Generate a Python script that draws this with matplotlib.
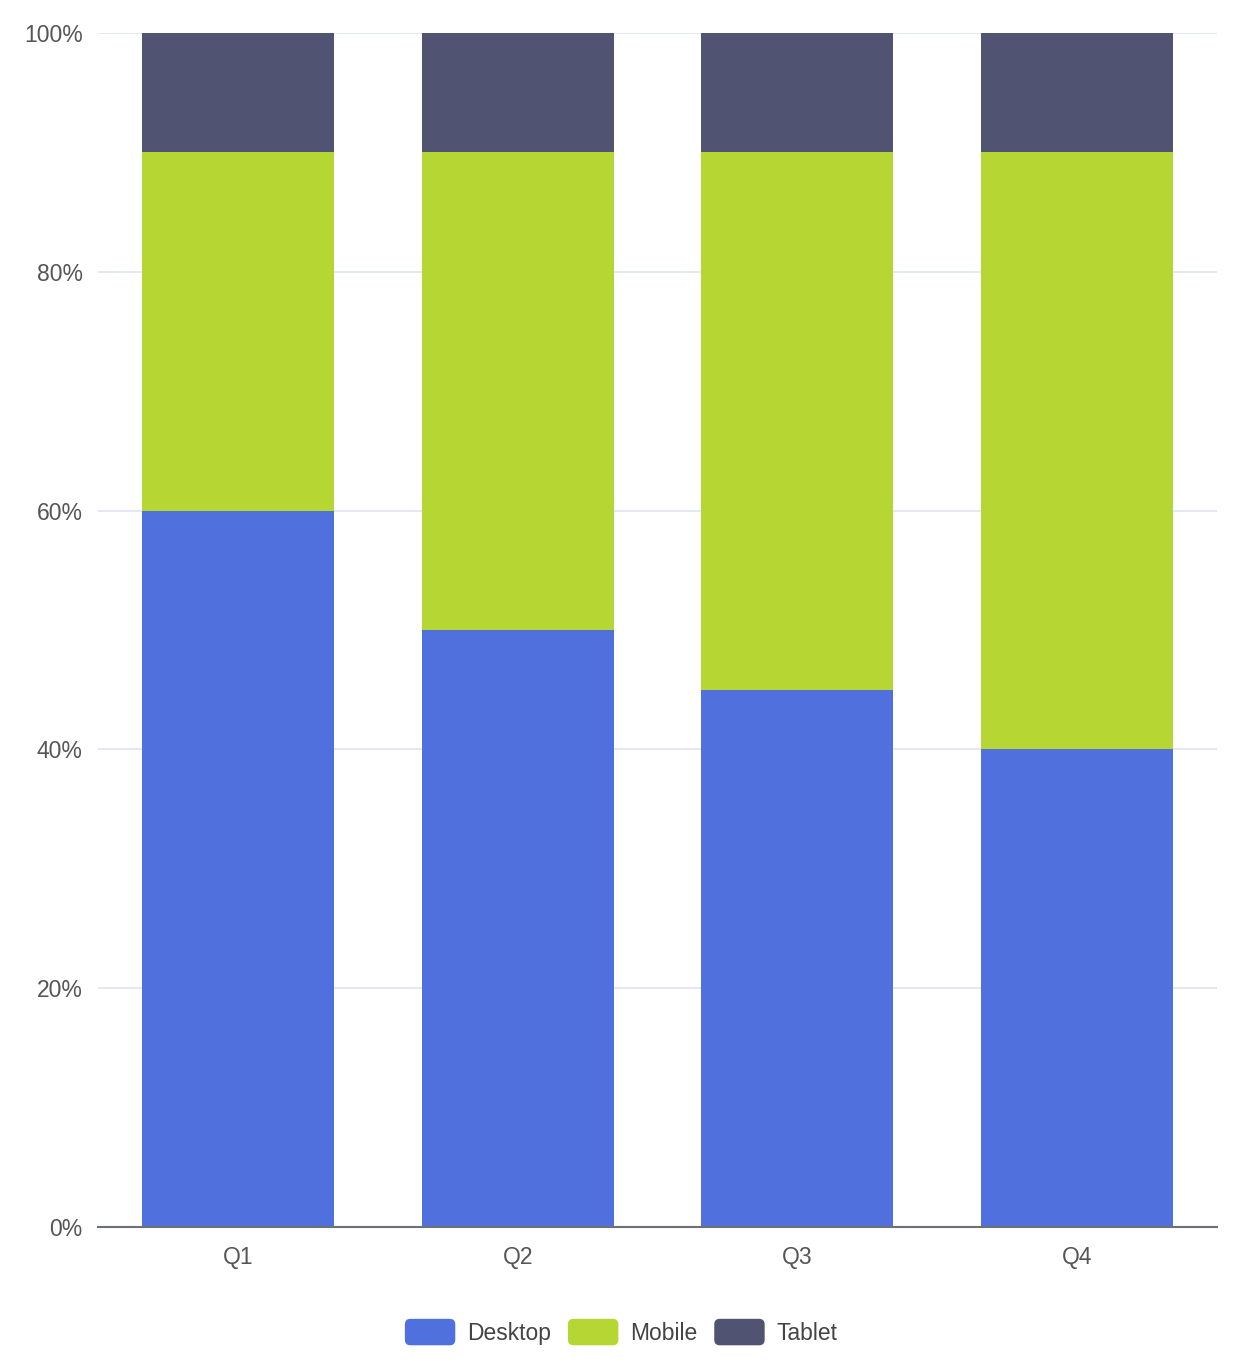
import matplotlib
matplotlib.use('Agg')
import matplotlib.pyplot as plt
from matplotlib.patches import FancyBboxPatch
from matplotlib.legend_handler import HandlerPatch
from matplotlib.patches import Patch

plt.rcParams['font.family'] = ['Liberation Sans', 'DejaVu Sans']

# dados
trimestres = ['Q1', 'Q2', 'Q3', 'Q4']
desktop = [60, 50, 45, 40]
mobile = [30, 40, 45, 50]
tablet = [10, 10, 10, 10]
series = ['Desktop', 'Mobile', 'Tablet']
cores = ['#5070dd', '#b6d634', '#505372']


class HandlerArredondado(HandlerPatch):
    def create_artists(self, legend, orig_handle, xdescent, ydescent,
                       width, height, fontsize, trans):
        p = FancyBboxPatch((-xdescent, -ydescent), width, height,
                           boxstyle='round,pad=0,rounding_size=4',
                           facecolor=orig_handle.get_facecolor(),
                           edgecolor='none', transform=trans)
        return [p]


fig = plt.figure(figsize=(12.42, 13.71), dpi=100)
ax = fig.add_axes([0.0789, 0.1050, 0.9799 - 0.0789, 0.9759 - 0.1050])

x = range(len(trimestres))
largura = 0.686
base = [0] * len(trimestres)
for nome, valores, cor in zip(series, [desktop, mobile, tablet], cores):
    ax.bar(x, valores, largura, bottom=base, color=cor, label=nome, zorder=2)
    base = [b + v for b, v in zip(base, valores)]

ax.set_xlim(-0.5, 3.5)
ax.set_ylim(0, 100)
ax.set_yticks([0, 20, 40, 60, 80, 100])
ax.set_yticklabels([f'{v}%' for v in [0, 20, 40, 60, 80, 100]])
ax.set_xticks(list(x))
ax.set_xticklabels(trimestres)

ax.grid(axis='y', color='#e0e6f1', linewidth=1.3, zorder=0)
for lado in ['top', 'right', 'left']:
    ax.spines[lado].set_visible(False)
ax.spines['bottom'].set_color('#6e7079')
ax.spines['bottom'].set_linewidth(1.5)
ax.spines['bottom'].set_zorder(3)
ax.tick_params(axis='both', length=0, labelsize=16.5, labelcolor='#555555')
ax.tick_params(axis='y', pad=11)
ax.tick_params(axis='x', pad=14)

handles = [Patch(facecolor=c, label=n) for n, c in zip(series, cores)]
fig.legend(handles=handles, loc='center', bbox_to_anchor=(0.5, 0.0284),
           ncol=3, frameon=False, fontsize=16.5, labelcolor='#444444',
           handlelength=2.2, handleheight=1.4, handletextpad=0.5,
           columnspacing=0.75,
           handler_map={Patch: HandlerArredondado()})

fig.savefig('out.png', dpi=100)
